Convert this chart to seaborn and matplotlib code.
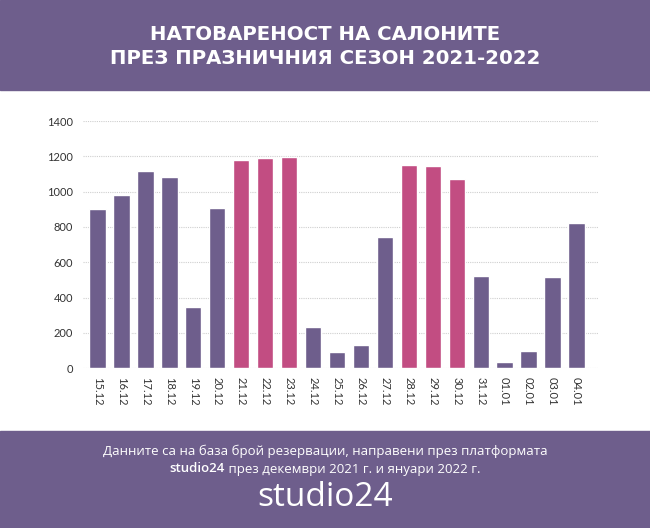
import matplotlib
matplotlib.use("Agg")
import matplotlib.pyplot as plt
import seaborn as sns
import pandas as pd

# Данни (прочетени от графиката)
dates = ["15.12", "16.12", "17.12", "18.12", "19.12", "20.12", "21.12",
         "22.12", "23.12", "24.12", "25.12", "26.12", "27.12", "28.12",
         "29.12", "30.12", "31.12", "01.01", "02.01", "03.01", "04.01"]
bookings = [904, 981, 1117, 1085, 349, 906, 1180,
            1193, 1195, 236, 91, 132, 745, 1151,
            1146, 1074, 524, 36, 100, 519, 825]
peak = [False, False, False, False, False, False, True,
        True, True, False, False, False, False, True,
        True, True, False, False, False, False, False]
yticks = [0, 200, 400, 600, 800, 1000, 1200, 1400]

title_lines = ["НАТОВАРЕНОСТ НА САЛОНИТЕ", "ПРЕЗ ПРАЗНИЧНИЯ СЕЗОН 2021-2022"]
note_1 = "Данните са на база брой резервации, направени през платформата"
note_2_bold = "studio24"
note_2 = " през декември 2021 г. и януари 2022 г."
logo = "studio24"

PURPLE = "#6e5e8c"
PINK = "#c24d82"

df = pd.DataFrame({"date": dates, "value": bookings, "peak": peak})

sns.set_style("white")
plt.rcParams["font.family"] = ["Lato", "DejaVu Sans"]

fig = plt.figure(figsize=(6.5, 5.28), dpi=100)

# горна и долна лента
fig.patches.append(plt.Rectangle((0, 1 - 90 / 528), 1, 90 / 528, transform=fig.transFigure,
                                 color=PURPLE, zorder=0))
fig.patches.append(plt.Rectangle((0, 0), 1, 97 / 528, transform=fig.transFigure,
                                 color=PURPLE, zorder=0))

for line, ypx in zip(title_lines, [34.5, 59]):
    fig.text(0.5, 1 - ypx / 528, line, ha="center", va="center", color="white",
             fontsize=14.2, fontweight="bold", family=["DejaVu Sans"])

ax = fig.add_axes([82.7 / 650, 1 - 368.3 / 528, (598 - 82.7) / 650, (368.3 - 121) / 528])
sns.barplot(data=df, x="date", y="value", hue="peak", dodge=False,
            palette={False: PURPLE, True: PINK}, width=0.68,
            legend=False, ax=ax, saturation=1)

ax.set_ylim(0, 1400)
ax.set_xlim(-0.62, 20.9)
ax.set_yticks(yticks)
ax.yaxis.grid(True, linestyle=(0, (1, 1)), color="#cfcfcf", linewidth=0.8)
ax.set_axisbelow(True)
ax.set_xlabel("")
ax.set_ylabel("")
for s in ax.spines.values():
    s.set_visible(False)
ax.tick_params(axis="y", length=0, pad=7, labelsize=8, labelcolor="#333333")
ax.tick_params(axis="x", length=0, pad=6, labelsize=8, labelcolor="#333333",
               labelrotation=270)

# бележка долу
fig.text(0.5, 1 - 451 / 528, note_1, ha="center", va="center", color="white",
         fontsize=9.5, family=["Open Sans", "DejaVu Sans"])
r = fig.canvas.get_renderer()
t1 = fig.text(0, 1 - 469 / 528, note_2_bold, ha="left", va="center", color="white",
              fontsize=9.5, fontweight="semibold", family=["Open Sans", "DejaVu Sans"])
t2 = fig.text(0, 1 - 469 / 528, note_2, ha="left", va="center", color="white",
              fontsize=9.5, family=["Open Sans", "DejaVu Sans"])
w1 = t1.get_window_extent(r).width / fig.bbox.width
w2 = t2.get_window_extent(r).width / fig.bbox.width
x0 = 0.5 - (w1 + w2) / 2
t1.set_x(x0)
t2.set_x(x0 + w1)

fig.text(0.5, 1 - 498 / 528, logo, ha="center", va="center", color="white",
         fontsize=24, fontweight="medium", family=["Open Sans", "DejaVu Sans"])

fig.savefig("out.png", dpi=100)
